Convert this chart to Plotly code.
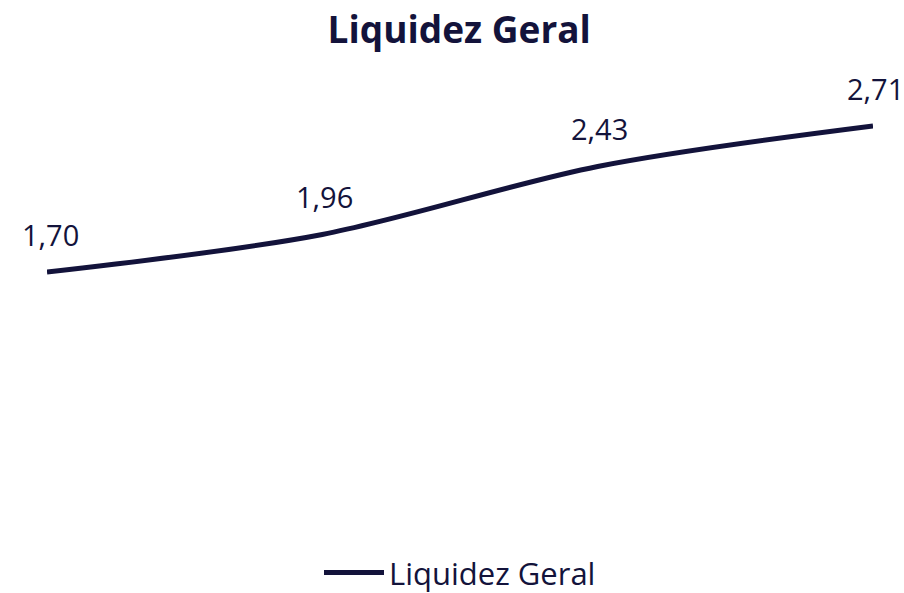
import plotly.graph_objects as go

periods = ["P1", "P2", "P3", "P4"]
values = [1.70, 1.96, 2.43, 2.71]
labels = ["1,70", "1,96", "2,43", "2,71"]

navy = "#13133b"
font_family = "'Open Sans', Lato, sans-serif"

fig = go.Figure()
fig.add_trace(go.Scatter(
    x=list(range(len(periods))), y=values, mode="lines",
    name="Liquidez Geral",
    line=dict(color=navy, width=5, shape="spline", smoothing=0.9),
    cliponaxis=False, hoverinfo="skip",
))

for i, (v, t) in enumerate(zip(values, labels)):
    fig.add_annotation(x=i, y=v, text=t, showarrow=False, yanchor="bottom",
                       xanchor="center", yshift=16, xshift=3 if i == 0 else 2,
                       font=dict(family=font_family, size=29, color=navy))

fig.update_layout(
    width=904, height=593,
    paper_bgcolor="white", plot_bgcolor="white",
    margin=dict(l=47, r=31, t=84, b=75),
    title=dict(text="<b>Liquidez Geral</b>", x=0.508, xanchor="center",
               y=0.95, yanchor="middle",
               font=dict(family=font_family, size=37, color=navy)),
    xaxis=dict(visible=False, range=[0, 3]),
    yaxis=dict(visible=False, range=[0, 3]),
    showlegend=True,
    legend=dict(orientation="h", x=0.5, xanchor="center",
                yref="container", y=0.034, yanchor="middle",
                font=dict(family=font_family, size=31, color=navy), itemwidth=60),
)

fig.write_html(
    "out.html",
    config={"displayModeBar": False},
    post_script="document.body.style.margin='0';document.body.style.overflow='hidden';",
)
